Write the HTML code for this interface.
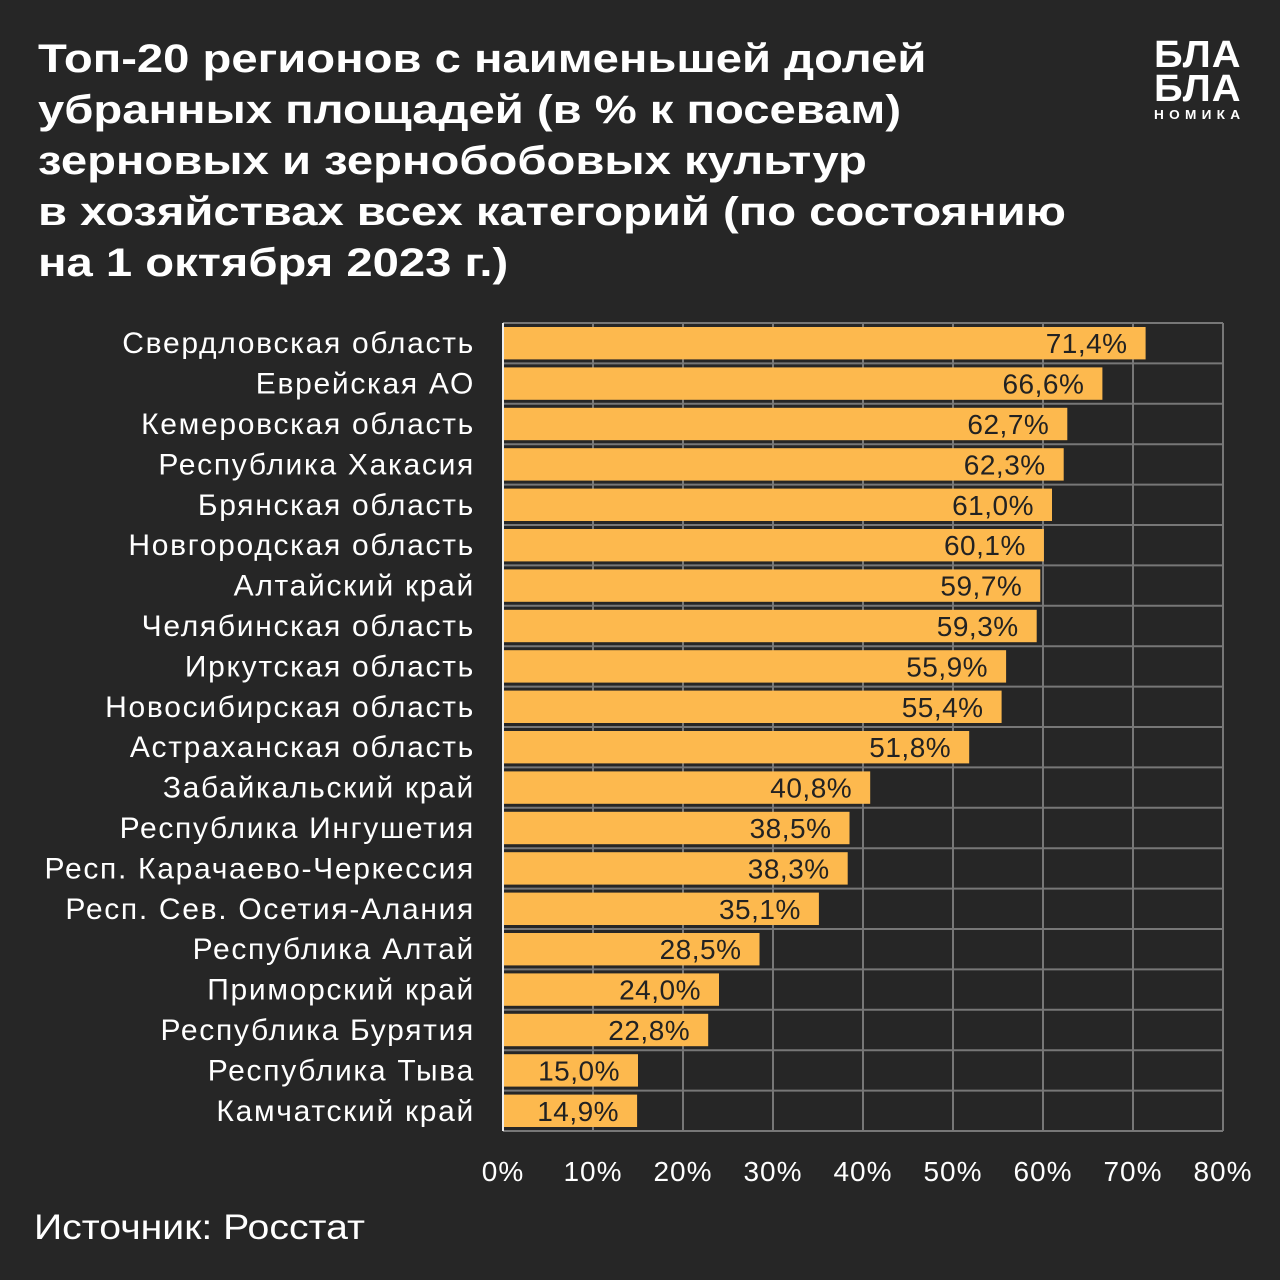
<!DOCTYPE html>
<html><head><meta charset="utf-8"><style>
body{margin:0;background:#262626;}
#root{position:relative;width:1280px;height:1280px;background:#262626;font-family:"Liberation Sans",sans-serif;color:#fff;overflow:hidden}
h1{position:absolute;left:38px;top:34px;margin:0;font-size:40px;line-height:51px;font-weight:bold;transform:scaleX(1.18);transform-origin:left top;white-space:nowrap}
.logo{position:absolute;left:1154px;top:38px;font-weight:bold;font-size:38px;line-height:34px;letter-spacing:1px;transform:scaleX(1.05);transform-origin:left top}
.logo small{display:block;font-size:13px;line-height:18px;letter-spacing:5px}
.src{position:absolute;left:34px;top:1208px;font-size:35px;transform:scaleX(1.12);transform-origin:left top}
</style></head><body>
<div id="root">
<h1>Топ-20 регионов с наименьшей долей<br>убранных площадей (в % к посевам)<br>зерновых и зернобобовых культур<br>в хозяйствах всех категорий (по состоянию<br>на 1 октября 2023 г.)</h1>
<div class="logo">БЛА<br>БЛА<small>НОМИКА</small></div>
<svg id="chart" width="1280" height="1280" style="position:absolute;left:0;top:0"></svg>
<div class="src">Источник: Росстат</div>
</div>
<script>
const categories=["Свердловская область","Еврейская АО","Кемеровская область","Республика Хакасия","Брянская область","Новгородская область","Алтайский край","Челябинская область","Иркутская область","Новосибирская область","Астраханская область","Забайкальский край","Республика Ингушетия","Респ. Карачаево-Черкессия","Респ. Сев. Осетия-Алания","Республика Алтай","Приморский край","Республика Бурятия","Республика Тыва","Камчатский край"];
const values=[71.4,66.6,62.7,62.3,61.0,60.1,59.7,59.3,55.9,55.4,51.8,40.8,38.5,38.3,35.1,28.5,24.0,22.8,15.0,14.9];
const ticks=[0,10,20,30,40,50,60,70,80];
(function(){
const NS="http://www.w3.org/2000/svg";
const svg=document.getElementById('chart');
const x0=503,x1=1223,yTop=323,yBot=1131,maxV=80;
const xs=v=>x0+(x1-x0)*v/maxV;
const rowH=(yBot-yTop)/categories.length;
const ys=i=>yTop+i*rowH;
function mk(t,a){const e=document.createElementNS(NS,t);for(const k in a)e.setAttribute(k,a[k]);svg.appendChild(e);return e;}
for(let i=0;i<=categories.length;i++){const l=mk('line',{x1:x0,x2:x1,y1:ys(i),y2:ys(i),stroke:'#777','stroke-width':2});

}
ticks.forEach(t=>{const l=mk('line',{x1:xs(t),x2:xs(t),y1:yTop,y2:yBot,stroke:'#777','stroke-width':2});


const tx=mk('text',{x:xs(t),y:1181,'text-anchor':'middle','font-size':28,fill:'#fff','font-family':'Liberation Sans, sans-serif','letter-spacing':1});tx.textContent=t+'%';

});
categories.forEach((c,i)=>{const y=ys(i);
const r=mk('rect',{x:x0,y:y+4,width:xs(values[i])-x0,height:rowH-8,fill:'#FDB94E'});


const v=mk('text',{x:xs(values[i])-18,y:y+rowH/2+10,'text-anchor':'end','font-size':28,fill:'#222','font-family':'Liberation Sans, sans-serif','letter-spacing':0.5});v.textContent=values[i].toFixed(1).replace('.',',')+'%';


const l=mk('text',{x:475,y:y+rowH/2+10,'text-anchor':'end','font-size':30,fill:'#fff','font-family':'Liberation Sans, sans-serif','letter-spacing':1.7});l.textContent=c;

});
const ax=mk('line',{x1:x0,x2:x0,y1:yTop,y2:yBot,stroke:'#eee','stroke-width':2});


})();
</script>
</body></html>
